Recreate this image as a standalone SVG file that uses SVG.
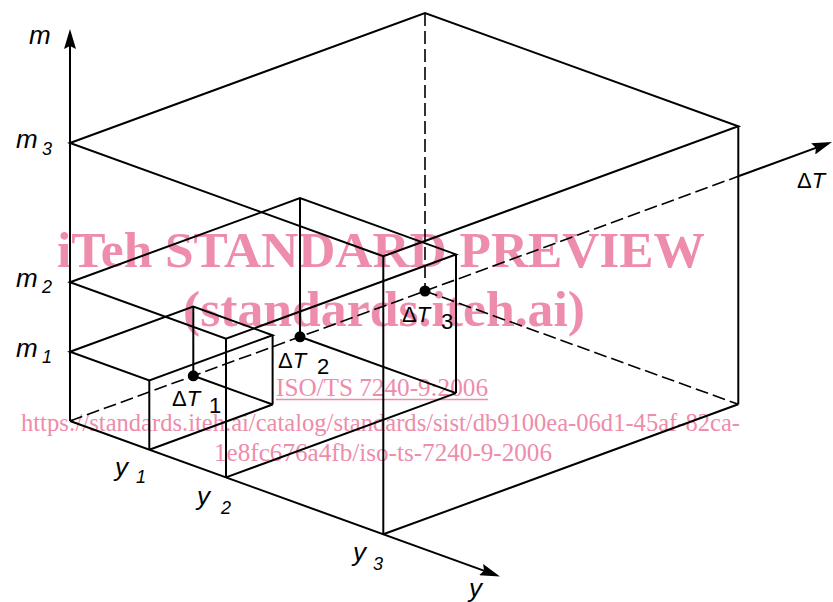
<svg xmlns="http://www.w3.org/2000/svg" width="833" height="602" viewBox="0 0 833 602">
<style>
.wm{fill:#ee8cab;font-family:"Liberation Serif",serif;text-anchor:middle}
.wb{font-weight:bold;font-size:51px}
.wr{font-size:25px}
.ln{stroke:#000;stroke-width:2;fill:none;stroke-linejoin:miter}
.ds{stroke:#000;stroke-width:1.6;fill:none;stroke-dasharray:13 5}
.lb{font-family:"Liberation Sans",Arial,sans-serif;font-size:26px;fill:#000}
.it{font-style:italic}
.sb{font-size:18px}
.dt{font-family:"Liberation Sans",Arial,sans-serif;font-size:22px;fill:#000}
.pt{fill:#000}
</style>
<defs>
<marker id="arr" viewBox="0 0 20 12" refX="16" refY="6" markerWidth="20" markerHeight="12" markerUnits="userSpaceOnUse" orient="auto">
<path d="M0,0 L20,6 L0,12 L3,6 z" fill="#000"/>
</marker>
</defs>
<g id="watermark">
<text class="wm wb" x="381" y="267" textLength="648" lengthAdjust="spacingAndGlyphs">iTeh STANDARD PREVIEW</text>
<text class="wm wb" x="384" y="326" textLength="402" lengthAdjust="spacingAndGlyphs">(standards.iteh.ai)</text>
<text class="wm wr" x="382" y="396" textLength="212" lengthAdjust="spacingAndGlyphs">ISO/TS 7240-9:2006</text>
<line x1="276" y1="399.5" x2="488" y2="399.5" stroke="#ee8cab" stroke-width="1.5"/>
<text class="wm wr" x="380.5" y="431" textLength="719" lengthAdjust="spacingAndGlyphs">https://standards.iteh.ai/catalog/standards/sist/db9100ea-06d1-45af-82ca-</text>
<text class="wm wr" x="383" y="461" textLength="338" lengthAdjust="spacingAndGlyphs">1e8fc676a4fb/iso-ts-7240-9-2006</text>
</g>
<g id="connectors">
<line class="ln" x1="70" y1="421" x2="70" y2="33" marker-end="url(#arr)"/>
<line class="ln" x1="70" y1="421" x2="496.2" y2="575.1" marker-end="url(#arr)"/>
<line class="ds" x1="70" y1="421" x2="738.3" y2="176.3"/>
<line class="ln" x1="738.3" y1="176.3" x2="828.2" y2="143.4" marker-end="url(#arr)"/>
</g>
<g id="box3">
<polygon class="ln" points="70,143 425,13 738.3,126.3 383.3,256.3"/>
<line class="ln" x1="383.3" y1="256.3" x2="383.3" y2="534.3"/>
<line class="ln" x1="738.3" y1="126.3" x2="738.3" y2="404.3"/>
<line class="ln" x1="383.3" y1="534.3" x2="738.3" y2="404.3"/>
<line class="ds" x1="425" y1="13" x2="425" y2="291"/>
<line class="ds" x1="425" y1="291" x2="738.3" y2="404.3"/>
</g>
<g id="box2">
<polygon class="ln" points="70,282.3 300,198.1 456,254.4 226,338.7"/>
<line class="ln" x1="226" y1="338.7" x2="226" y2="477.4"/>
<line class="ln" x1="456" y1="254.4" x2="456" y2="393.1"/>
<line class="ln" x1="300" y1="198.1" x2="300" y2="336.8"/>
<line class="ln" x1="226" y1="477.4" x2="456" y2="393.1"/>
<line class="ln" x1="300" y1="336.8" x2="456" y2="393.1"/>
</g>
<g id="box1">
<polygon class="ln" points="70,351.7 193.3,306.5 272.6,335.2 149.3,380.4"/>
<line class="ln" x1="149.3" y1="380.4" x2="149.3" y2="449.7"/>
<line class="ln" x1="272.6" y1="335.2" x2="272.6" y2="404.5"/>
<line class="ln" x1="193.3" y1="306.5" x2="193.3" y2="375.8"/>
<line class="ln" x1="149.3" y1="449.7" x2="272.6" y2="404.5"/>
<line class="ln" x1="193.3" y1="375.8" x2="272.6" y2="404.5"/>
</g>
<g id="point1"><circle class="pt" cx="193.3" cy="375.8" r="5.5"/><text class="dt" x="172" y="406">Δ<tspan class="it">T</tspan></text><text class="dt" x="209" y="413" font-size="18">1</text></g>
<g id="point2"><circle class="pt" cx="300" cy="336.8" r="5.5"/><text class="dt" x="278" y="368">Δ<tspan class="it">T</tspan></text><text class="dt" x="317" y="374" font-size="18">2</text></g>
<g id="point3"><circle class="pt" cx="425" cy="291" r="5.5"/><text class="dt" x="402" y="322">Δ<tspan class="it">T</tspan></text><text class="dt" x="441" y="329" font-size="18">3</text></g>
<g id="labels">
<text class="lb it" x="29" y="44">m</text>
<text class="lb it" x="16" y="148">m</text><text class="lb it sb" x="42" y="155">3</text>
<text class="lb it" x="16" y="287">m</text><text class="lb it sb" x="42" y="293">2</text>
<text class="lb it" x="16" y="357">m</text><text class="lb it sb" x="42" y="363">1</text>
<text class="lb it" x="115" y="476">y</text><text class="lb it sb" x="136" y="483">1</text>
<text class="lb it" x="197" y="505">y</text><text class="lb it sb" x="221" y="514">2</text>
<text class="lb it" x="353" y="561">y</text><text class="lb it sb" x="373" y="570">3</text>
<text class="lb it" x="469" y="597">y</text>
<text class="dt" x="797" y="188">Δ<tspan class="it">T</tspan></text>
</g>
</svg>
